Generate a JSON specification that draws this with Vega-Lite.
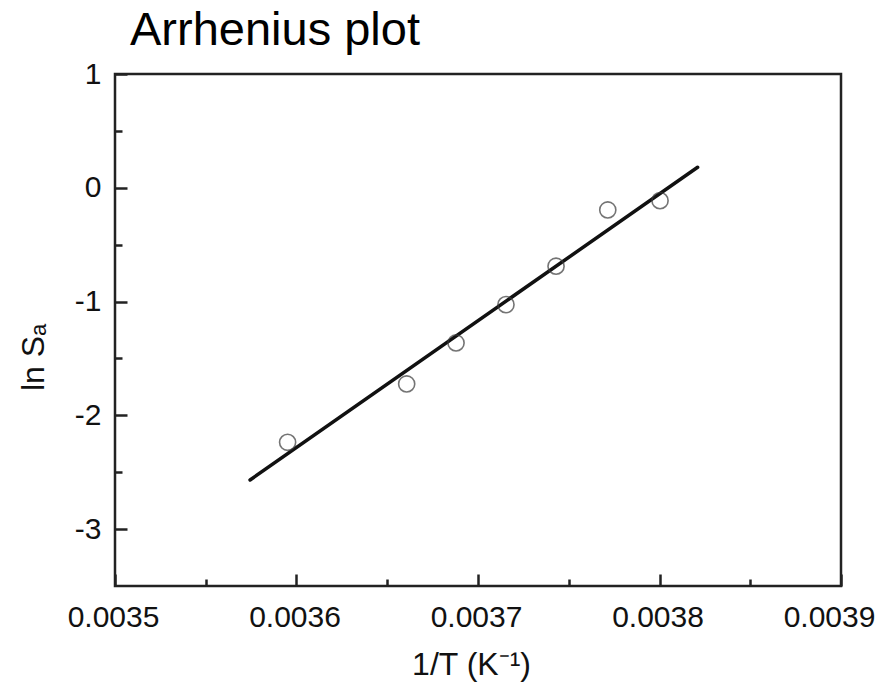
{
  "$schema": "https://vega.github.io/schema/vega-lite/v6.json",
  "width": 726,
  "height": 512,
  "autosize": {"type": "none"},
  "padding": {"left": 115, "top": 74, "right": 40, "bottom": 97},
  "background": "white",
  "config": {
    "view": {"stroke": "#222222", "strokeWidth": 2.5},
    "font": "Liberation Sans",
    "axis": {"grid": false, "domain": false, "labelFlush": false, "labelOverlap": false, "labelFont": "Liberation Sans", "titleFont": "Liberation Sans", "labelColor": "#111111", "titleColor": "#111111", "tickColor": "#222222", "tickWidth": 2.5, "titleFontWeight": "normal"}
  },
  "title": {
    "text": "Arrhenius plot",
    "anchor": "start",
    "frame": "group",
    "dx": 15,
    "offset": 4,
    "fontSize": 47,
    "fontWeight": "normal",
    "font": "Liberation Sans",
    "color": "#000000"
  },
  "datasets": {
    "fit": [
      {"invT": 0.0035744, "lnSa": -2.568},
      {"invT": 0.003821, "lnSa": 0.18}
    ],
    "obs": [
      {"invT": 0.0035951, "lnSa": -2.237},
      {"invT": 0.0036607, "lnSa": -1.724},
      {"invT": 0.0036879, "lnSa": -1.364},
      {"invT": 0.0037154, "lnSa": -1.027},
      {"invT": 0.003743, "lnSa": -0.689},
      {"invT": 0.0037715, "lnSa": -0.195},
      {"invT": 0.0038003, "lnSa": -0.113}
    ]
  },
  "layer": [
    {
      "data": {"name": "fit"},
      "mark": {"type": "line", "color": "#111111", "strokeWidth": 3.5, "strokeCap": "round"},
      "encoding": {
        "x": {
          "field": "invT", "type": "quantitative",
          "scale": {"domain": [0.0035, 0.0039], "nice": false, "zero": false},
          "axis": {
            "orient": "bottom",
            "values": [0.0035, 0.0036, 0.0037, 0.0038, 0.0039],
            "format": ".4f",
            "labelFontSize": 30,
            "tickSize": -12,
            "labelPadding": 28,
            "labelOffset": {"condition": {"test": "datum.value > 0.00389", "value": -12}, "value": -2},
            "title": "1/T (K⁻¹)",
            "titleFontSize": 32,
            "titleX": 356,
            "titleY": 88,
            "titleBaseline": "alphabetic",
            "titleAlign": "center"
          }
        },
        "y": {
          "field": "lnSa", "type": "quantitative",
          "scale": {"domain": [-3.5, 1], "nice": false, "zero": false},
          "axis": {
            "orient": "left",
            "values": [-3, -2, -1, 0, 1],
            "labelExpr": "toString(datum.value)",
            "labelFontSize": 30,
            "tickSize": -12,
            "labelPadding": 26,
            "title": "ln Sₐ",
            "titleFontSize": 32,
            "titleAngle": -90,
            "titleX": -72,
            "titleY": 283,
            "titleBaseline": "alphabetic",
            "titleAlign": "center"
          }
        }
      }
    },
    {
      "data": {"name": "obs"},
      "mark": {"type": "point", "shape": "circle", "filled": false, "stroke": "#3a3a3a", "strokeWidth": 1.6, "size": 260},
      "encoding": {
        "x": {
          "field": "invT", "type": "quantitative",
          "axis": {
            "orient": "bottom",
            "values": [0.00355, 0.00365, 0.00375, 0.00385],
            "labels": false,
            "tickSize": -7,
            "title": null
          }
        },
        "y": {
          "field": "lnSa", "type": "quantitative",
          "axis": {
            "orient": "left",
            "values": [-2.5, -1.5, -0.5, 0.5],
            "labels": false,
            "tickSize": -7,
            "title": null
          }
        }
      }
    }
  ],
  "resolve": {"axis": {"x": "independent", "y": "independent"}}
}
